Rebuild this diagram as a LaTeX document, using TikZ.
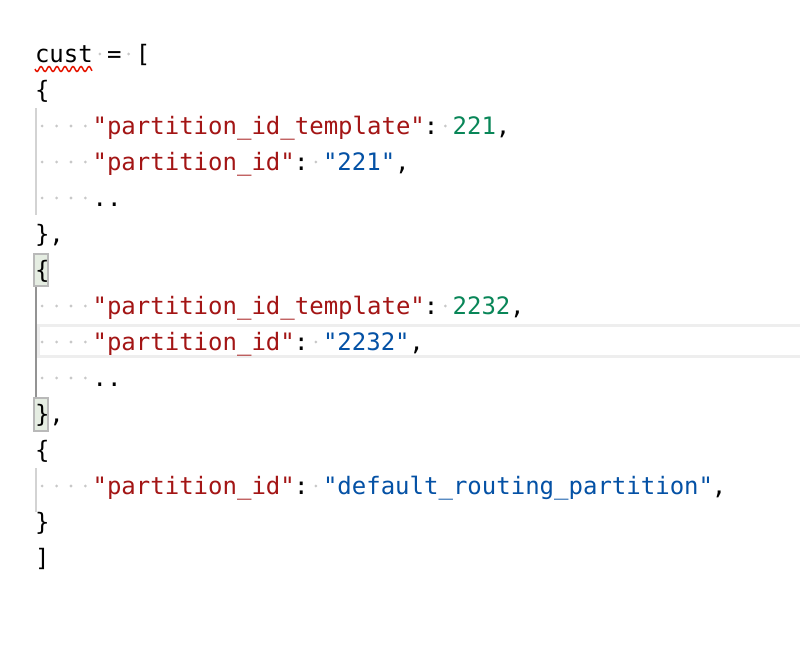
\documentclass[tikz,border=0pt]{standalone}
\usepackage{fontspec}
\newfontfamily\codefont{DejaVu Sans Mono}
\definecolor{strred}{HTML}{A31515}
\definecolor{numgreen}{HTML}{098658}
\definecolor{strblue}{HTML}{0451A5}
\definecolor{wsdot}{HTML}{C8C8C8}
\definecolor{guide}{HTML}{D3D3D3}
\definecolor{guideact}{HTML}{939393}
\definecolor{curline}{HTML}{EEEEEE}
\definecolor{matchfill}{HTML}{E5EDE2}
\definecolor{matchdraw}{HTML}{B9B9B9}
\definecolor{errred}{HTML}{E51400}
\newcommand{\cx}[1]{35+#1*14.4}
\newcommand{\by}[1]{62+#1*36}
\begin{document}
\begin{tikzpicture}[x=0.75pt,y=-0.75pt,
  tok/.style={anchor=base west,inner sep=0pt,outer sep=0pt,font=\codefont\fontsize{18}{18}\selectfont},
  red/.style={tok,text=strred},
  grn/.style={tok,text=numgreen},
  blu/.style={tok,text=strblue},
  blk/.style={tok,text=black},
  wsdot/.style={fill=wsdot,circle,inner sep=0pt,minimum size=2.3pt}]
\fill[white] (0,0) rectangle (800,650);
\useasboundingbox (0,0) rectangle (800,650);
% current line highlight
\draw[curline,line width=2.4pt] (38,325.5) rectangle (803,356.5);
% indent guides
\draw[guide,line width=1.5pt] (35.5,108) -- (35.5,215);
\draw[guideact,line width=1.5pt] (35.5,287) -- (35.5,397);
\draw[guide,line width=1.5pt] (35.5,468) -- (35.5,512);
% bracket match boxes
\draw[matchdraw,fill=matchfill,line width=1.5pt] (34,254) rectangle (47.5,286);
\draw[matchdraw,fill=matchfill,line width=1.5pt] (34,398) rectangle (47.5,431);
% whitespace dots
\foreach \r in {2,3,4,7,8,9,12}{
  \foreach \c in {0,1,2,3}{
    \node[wsdot] at ({\cx{\c}+7.2},{\by{\r}-8}) {};
  }
}
\foreach \c/\r in {4/0,6/0,28/2,19/3,28/7,19/8,19/12}{
  \node[wsdot] at ({\cx{\c}+7.2},{\by{\r}-8}) {};
}
% line 0
\node[blk] (l0a) at ({\cx{0}},{\by{0}}) {cust};
\node[blk] (l0b) at ({\cx{5}},{\by{0}}) {=};
\node[blk] (l0c) at ({\cx{7}},{\by{0}}) {[};
\draw[errred,line width=1.1pt] plot[domain=35:92,samples=80] (\x,{69+2.5*sin((\x-35)*45)});
% line 1
\node[blk] (l1a) at ({\cx{0}},{\by{1}}) {\{};
% line 2
\node[red] (l2a) at ({\cx{4}},{\by{2}}) {"partition\_id\_template"};
\node[blk] (l2b) at ({\cx{27}},{\by{2}}) {:};
\node[grn] (l2c) at ({\cx{29}},{\by{2}}) {221};
\node[blk] (l2d) at ({\cx{32}},{\by{2}}) {,};
% line 3
\node[red] (l3a) at ({\cx{4}},{\by{3}}) {"partition\_id"};
\node[blk] (l3b) at ({\cx{18}},{\by{3}}) {:};
\node[blu] (l3c) at ({\cx{20}},{\by{3}}) {"221"};
\node[blk] (l3d) at ({\cx{25}},{\by{3}}) {,};
% line 4
\node[blk] (l4a) at ({\cx{4}},{\by{4}}) {..};
% line 5
\node[blk] (l5a) at ({\cx{0}},{\by{5}}) {\},};
% line 6
\node[blk] (l6a) at ({\cx{0}},{\by{6}}) {\{};
% line 7
\node[red] (l7a) at ({\cx{4}},{\by{7}}) {"partition\_id\_template"};
\node[blk] (l7b) at ({\cx{27}},{\by{7}}) {:};
\node[grn] (l7c) at ({\cx{29}},{\by{7}}) {2232};
\node[blk] (l7d) at ({\cx{33}},{\by{7}}) {,};
% line 8
\node[red] (l8a) at ({\cx{4}},{\by{8}}) {"partition\_id"};
\node[blk] (l8b) at ({\cx{18}},{\by{8}}) {:};
\node[blu] (l8c) at ({\cx{20}},{\by{8}}) {"2232"};
\node[blk] (l8d) at ({\cx{26}},{\by{8}}) {,};
% line 9
\node[blk] (l9a) at ({\cx{4}},{\by{9}}) {..};
% line 10
\node[blk] (l10a) at ({\cx{0}},{\by{10}}) {\},};
% line 11
\node[blk] (l11a) at ({\cx{0}},{\by{11}}) {\{};
% line 12
\node[red] (l12a) at ({\cx{4}},{\by{12}}) {"partition\_id"};
\node[blk] (l12b) at ({\cx{18}},{\by{12}}) {:};
\node[blu] (l12c) at ({\cx{20}},{\by{12}}) {"default\_routing\_partition"};
\node[blk] (l12d) at ({\cx{47}},{\by{12}}) {,};
% line 13
\node[blk] (l13a) at ({\cx{0}},{\by{13}}) {\}};
% line 14
\node[blk] (l14a) at ({\cx{0}},{\by{14}}) {]};
\end{tikzpicture}
\end{document}
